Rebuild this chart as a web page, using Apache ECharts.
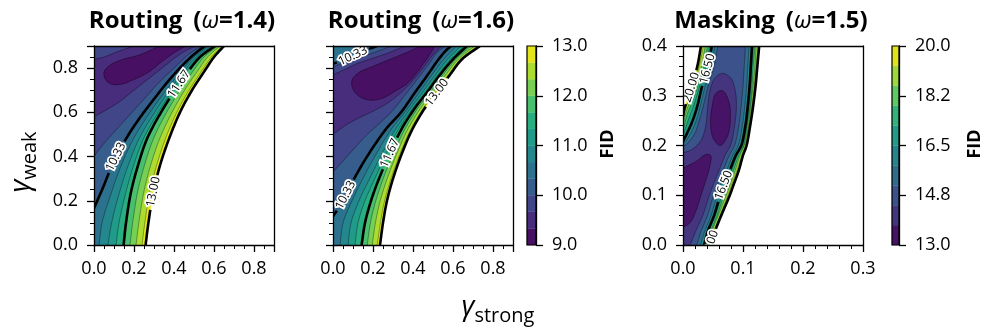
<!DOCTYPE html>
<html>
<head>
<meta charset="utf-8">
<script src="https://cdn.jsdelivr.net/npm/echarts@6.0.0/dist/echarts.min.js"></script>
<style>
html,body{margin:0;padding:0;background:#ffffff;}
#chart{width:996px;height:332px;}
</style>
</head>
<body>
<div id="chart"></div>
<script>
// ============================ DATA ============================
const panelNames = ['Routing', 'Routing', 'Masking'];
const panelOmegas = ['1.4', '1.6', '1.5'];

// FID contour levels
const routingLevels = [9.0, 9.333, 9.667, 10.0, 10.333, 10.667, 11.0, 11.333, 11.667, 12.0, 12.333, 12.667, 13.0];
const maskingLevels = [13.0, 13.7, 14.4, 15.1, 15.8, 16.5, 17.2, 17.9, 18.6, 19.3, 20.0];
const routingBoldLevels = [9.0, 10.333, 11.667, 13.0];
const maskingBoldLevels = [13.0, 16.5, 20.0];

// colorbar ticks
const routingCbarTicks = [9, 10, 11, 12, 13];
const maskingCbarTicks = [13, 14.75, 16.5, 18.25, 20];
const maskingCbarTickLabels = ['13.0', '14.8', '16.5', '18.2', '20.0'];

// axis tick labels
const routingAxisTicks = ['0.0', '0.2', '0.4', '0.6', '0.8'];
const maskingXTicks = ['0.0', '0.1', '0.2', '0.3'];
const maskingYTicks = ['0.0', '0.1', '0.2', '0.3', '0.4'];

// --- contour lines: [gamma_strong, gamma_weak] points ---
// Routing (omega = 1.4)
const r14_L0933 = [[[0.33,0.9],[0.3,0.888],[0.223,0.858],[0.14,0.838],[0.075,0.81],[0.05,0.78],[0.06,0.745],[0.09,0.727],[0.14,0.728],[0.19,0.745],[0.27,0.78],[0.34,0.83],[0.41,0.875],[0.46,0.9]]];
const r14_L0967 = [[[0.2,0.9],[0.12,0.875],[0.05,0.85],[0,0.84]],
                   [[0,0.58],[0.06,0.61],[0.13,0.65],[0.2,0.7],[0.27,0.75],[0.34,0.8],[0.41,0.85],[0.46,0.88],[0.51,0.9]]];
const r14_L1000 = [[[0,0.4],[0.05,0.46],[0.12,0.53],[0.19,0.6],[0.26,0.67],[0.33,0.74],[0.4,0.8],[0.47,0.86],[0.535,0.9]]];
const r14_L1033 = [[[0,0.166],[0.045,0.26],[0.1,0.38],[0.16,0.48],[0.225,0.57],[0.3,0.66],[0.375,0.745],[0.445,0.815],[0.51,0.87],[0.555,0.9]]];
const r14_L1067 = [[[0.025,0],[0.04,0.1],[0.088,0.24],[0.136,0.36],[0.197,0.48],[0.28,0.6],[0.36,0.7],[0.439,0.79],[0.499,0.85],[0.573,0.9]]];
const r14_L1100 = [[[0.07,0],[0.088,0.1],[0.128,0.24],[0.171,0.36],[0.225,0.48],[0.303,0.6],[0.378,0.7],[0.454,0.79],[0.512,0.85],[0.586,0.9]]];
const r14_L1133 = [[[0.11,0],[0.125,0.1],[0.16,0.24],[0.198,0.36],[0.247,0.48],[0.321,0.6],[0.393,0.7],[0.466,0.79],[0.522,0.85],[0.597,0.9]]];
const r14_L1167 = [[[0.148,0],[0.16,0.1],[0.185,0.24],[0.22,0.36],[0.265,0.48],[0.335,0.6],[0.405,0.7],[0.475,0.79],[0.53,0.85],[0.605,0.9]]];
const r14_L1200 = [[[0.18,0],[0.193,0.1],[0.218,0.24],[0.252,0.36],[0.297,0.48],[0.363,0.6],[0.43,0.7],[0.498,0.79],[0.55,0.85],[0.618,0.9]]];
const r14_L1233 = [[[0.21,0],[0.224,0.1],[0.249,0.24],[0.283,0.36],[0.328,0.48],[0.39,0.6],[0.453,0.7],[0.52,0.79],[0.568,0.85],[0.63,0.9]]];
const r14_L1267 = [[[0.24,0],[0.254,0.1],[0.279,0.24],[0.313,0.36],[0.357,0.48],[0.414,0.6],[0.475,0.7],[0.541,0.79],[0.587,0.85],[0.642,0.9]]];
const r14_L1300 = [[[0.258,0],[0.272,0.1],[0.297,0.24],[0.33,0.36],[0.375,0.48],[0.43,0.6],[0.49,0.7],[0.555,0.79],[0.6,0.85],[0.65,0.9]]];

// Routing (omega = 1.6)
const r16_L0933 = [[[0.44,0.9],[0.38,0.875],[0.3,0.845],[0.2,0.808],[0.13,0.78],[0.095,0.745],[0.1,0.705],[0.135,0.67],[0.19,0.655],[0.25,0.665],[0.31,0.695],[0.37,0.73],[0.42,0.78],[0.46,0.83],[0.49,0.87],[0.51,0.9]]];
const r16_L0967 = [[[0.36,0.9],[0.28,0.87],[0.2,0.845],[0.12,0.82],[0.05,0.79],[0,0.77]],
                   [[0,0.5],[0.06,0.54],[0.13,0.575],[0.2,0.605],[0.27,0.64],[0.34,0.69],[0.4,0.745],[0.45,0.8],[0.49,0.85],[0.52,0.88],[0.545,0.9]]];
const r16_L1000 = [[[0.29,0.9],[0.22,0.875],[0.14,0.85],[0.07,0.83],[0,0.805]],
                   [[0,0.33],[0.05,0.38],[0.1,0.43],[0.16,0.49],[0.22,0.54],[0.29,0.6],[0.37,0.69],[0.43,0.76],[0.48,0.82],[0.52,0.87],[0.56,0.9]]];
const r16_L1033 = [[[0.22,0.9],[0.16,0.88],[0.1,0.855],[0.05,0.835],[0,0.82]],
                   [[0,0.13],[0.03,0.17],[0.06,0.22],[0.1,0.29],[0.15,0.37],[0.21,0.455],[0.27,0.53],[0.34,0.6],[0.41,0.69],[0.47,0.765],[0.52,0.83],[0.56,0.875],[0.59,0.9]]];
const r16_L1067 = [[[0.035,0],[0.05,0.1],[0.095,0.2],[0.149,0.3],[0.218,0.415],[0.289,0.52],[0.375,0.62],[0.431,0.69],[0.495,0.77],[0.554,0.84],[0.618,0.9]]];
const r16_L1100 = [[[0.075,0],[0.09,0.1],[0.13,0.2],[0.183,0.3],[0.246,0.415],[0.31,0.52],[0.389,0.62],[0.447,0.69],[0.512,0.77],[0.573,0.84],[0.64,0.9]]];
const r16_L1133 = [[[0.11,0],[0.125,0.1],[0.16,0.2],[0.209,0.3],[0.267,0.415],[0.325,0.52],[0.401,0.62],[0.46,0.69],[0.525,0.77],[0.588,0.84],[0.656,0.9]]];
const r16_L1167 = [[[0.143,0],[0.16,0.1],[0.19,0.2],[0.23,0.3],[0.285,0.415],[0.34,0.52],[0.41,0.62],[0.47,0.69],[0.535,0.77],[0.6,0.84],[0.67,0.9]]];
const r16_L1200 = [[[0.171,0],[0.187,0.1],[0.214,0.2],[0.251,0.3],[0.303,0.415],[0.357,0.52],[0.425,0.62],[0.485,0.69],[0.55,0.77],[0.614,0.84],[0.69,0.9]]];
const r16_L1233 = [[[0.196,0],[0.212,0.1],[0.236,0.2],[0.271,0.3],[0.32,0.415],[0.372,0.52],[0.439,0.62],[0.499,0.69],[0.564,0.77],[0.626,0.84],[0.708,0.9]]];
const r16_L1267 = [[[0.221,0],[0.237,0.1],[0.258,0.2],[0.29,0.3],[0.336,0.415],[0.387,0.52],[0.453,0.62],[0.513,0.69],[0.578,0.77],[0.638,0.84],[0.725,0.9]]];
const r16_L1300 = [[[0.235,0],[0.25,0.1],[0.27,0.2],[0.3,0.3],[0.345,0.415],[0.395,0.52],[0.46,0.62],[0.52,0.69],[0.585,0.77],[0.645,0.84],[0.735,0.9]]];

// Masking (omega = 1.5)
const m15_L1370 = [[[0,0.035],[0.012,0.045],[0.022,0.07],[0.03,0.1],[0.038,0.13],[0.045,0.16],[0.046,0.18],[0.038,0.182],[0.022,0.168],[0,0.155]],
                   [[0.062,0.2],[0.074,0.218],[0.079,0.255],[0.076,0.29],[0.066,0.31],[0.055,0.305],[0.048,0.275],[0.046,0.24],[0.051,0.213]]];
const m15_L1440 = [[[0.012,0],[0.022,0.03],[0.033,0.06],[0.044,0.1],[0.05,0.12],[0.06,0.15],[0.07,0.18],[0.079,0.2],[0.086,0.24],[0.089,0.28],[0.087,0.31],[0.08,0.335],[0.066,0.345],[0.053,0.335],[0.045,0.31],[0.041,0.275],[0.038,0.24],[0.03,0.21],[0.015,0.192],[0,0.185]]];
const m15_L1510 = [[[0.058,0.4],[0.052,0.36],[0.042,0.32],[0.034,0.28],[0.027,0.25],[0.02,0.225],[0.008,0.205],[0,0.198]],
                   [[0.023,0],[0.031,0.03],[0.041,0.06],[0.051,0.1],[0.057,0.12],[0.067,0.15],[0.077,0.18],[0.086,0.2],[0.093,0.24],[0.097,0.28],[0.1,0.32],[0.102,0.36],[0.104,0.4]]];
const m15_L1580 = [[[0.053,0.4],[0.047,0.36],[0.037,0.32],[0.029,0.28],[0.022,0.25],[0.013,0.225],[0.004,0.208],[0,0.203]],
                   [[0.029,0],[0.037,0.03],[0.047,0.06],[0.057,0.1],[0.063,0.12],[0.073,0.15],[0.083,0.18],[0.092,0.2],[0.099,0.24],[0.103,0.28],[0.106,0.32],[0.108,0.36],[0.11,0.4]]];
const m15_L1650 = [[[0.048,0.4],[0.042,0.36],[0.032,0.32],[0.024,0.28],[0.016,0.25],[0.008,0.228],[0,0.208]],
                   [[0.035,0],[0.042,0.03],[0.052,0.06],[0.062,0.1],[0.068,0.12],[0.078,0.15],[0.088,0.18],[0.097,0.2],[0.104,0.24],[0.108,0.28],[0.111,0.32],[0.113,0.36],[0.115,0.4]]];
const m15_L1720 = [[[0.0445,0.4],[0.038,0.36],[0.028,0.32],[0.019,0.285],[0.01,0.255],[0,0.22]],
                   [[0.037,0],[0.044,0.03],[0.054,0.06],[0.065,0.1],[0.071,0.12],[0.081,0.15],[0.09,0.18],[0.099,0.2],[0.106,0.24],[0.11,0.28],[0.113,0.32],[0.115,0.36],[0.117,0.4]]];
const m15_L1790 = [[[0.041,0.4],[0.035,0.36],[0.025,0.32],[0.016,0.29],[0.007,0.262],[0,0.23]],
                   [[0.039,0],[0.047,0.03],[0.057,0.06],[0.068,0.1],[0.074,0.12],[0.084,0.15],[0.093,0.18],[0.101,0.2],[0.107,0.24],[0.112,0.28],[0.115,0.32],[0.117,0.36],[0.12,0.4]]];
const m15_L1860 = [[[0.037,0.4],[0.031,0.36],[0.021,0.32],[0.013,0.292],[0.005,0.267],[0,0.24]],
                   [[0.041,0],[0.049,0.03],[0.059,0.06],[0.072,0.1],[0.078,0.12],[0.087,0.15],[0.095,0.18],[0.102,0.2],[0.109,0.24],[0.113,0.28],[0.117,0.32],[0.12,0.36],[0.122,0.4]]];
const m15_L1930 = [[[0.034,0.4],[0.027,0.36],[0.018,0.32],[0.01,0.293],[0.003,0.27],[0,0.25]],
                   [[0.043,0],[0.052,0.03],[0.062,0.06],[0.075,0.1],[0.081,0.12],[0.09,0.15],[0.098,0.18],[0.104,0.2],[0.11,0.24],[0.115,0.28],[0.119,0.32],[0.122,0.36],[0.125,0.4]]];
const m15_L2000 = [[[0.03,0.4],[0.024,0.36],[0.015,0.32],[0.008,0.295],[0.002,0.272],[0,0.258]],
                   [[0.045,0],[0.054,0.03],[0.064,0.06],[0.078,0.1],[0.084,0.12],[0.093,0.15],[0.1,0.18],[0.106,0.2],[0.112,0.24],[0.117,0.28],[0.121,0.32],[0.124,0.36],[0.127,0.4]]];

// contour-label texts
const r14LabelTexts = ['10.33', '11.67', '13.00'];
const r16LabelTexts = ['10.33', '10.33', '11.67', '13.00'];
const m15LabelTexts = ['20.00', '16.50', '16.50', '20.00'];

// ====================== BUILD (not data) ======================
const r14Contours = [[9.333,r14_L0933],[9.667,r14_L0967],[10.0,r14_L1000],[10.333,r14_L1033],[10.667,r14_L1067],[11.0,r14_L1100],[11.333,r14_L1133],[11.667,r14_L1167],[12.0,r14_L1200],[12.333,r14_L1233],[12.667,r14_L1267],[13.0,r14_L1300]];
const r16Contours = [[9.333,r16_L0933],[9.667,r16_L0967],[10.0,r16_L1000],[10.333,r16_L1033],[10.667,r16_L1067],[11.0,r16_L1100],[11.333,r16_L1133],[11.667,r16_L1167],[12.0,r16_L1200],[12.333,r16_L1233],[12.667,r16_L1267],[13.0,r16_L1300]];
const m15Contours = [[13.7,m15_L1370],[14.4,m15_L1440],[15.1,m15_L1510],[15.8,m15_L1580],[16.5,m15_L1650],[17.2,m15_L1720],[17.9,m15_L1790],[18.6,m15_L1860],[19.3,m15_L1930],[20.0,m15_L2000]];

// label anchors (layout config)
const r14LabelSpots = [[10.333,[0.105,0.398]],[11.667,[0.43,0.723]],[13.0,[0.297,0.24]]];
const r16LabelSpots = [[10.333,[0.1,0.855]],[10.333,[0.06,0.224]],[11.667,[0.285,0.414]],[13.0,[0.518,0.693]]];
const m15LabelSpots = [[20.0,[0.012,0.318]],[16.5,[0.045,0.352]],[16.5,[0.066,0.12]],[20.0,[0.045,0.0]]];

const FONT = "'Open Sans','Noto Sans','DejaVu Sans',sans-serif";
const VIR = ['#440154','#48186a','#472d7b','#424086','#3b528b','#33638d','#2c728e','#26828e','#21918c','#1fa088','#28ae80','#3fbc73','#5ec962','#84d44b','#addc30','#d8e219','#fde725'];
function hexRgb(h){ return [parseInt(h.slice(1,3),16), parseInt(h.slice(3,5),16), parseInt(h.slice(5,7),16)]; }
function viridis(t){
  const n = VIR.length - 1;
  const f = Math.min(Math.max(t,0),1) * n;
  const i = Math.min(Math.floor(f), n-1), u = f - i;
  const a = hexRgb(VIR[i]), b = hexRgb(VIR[i+1]);
  return 'rgb(' + [0,1,2].map(k => Math.round(a[k] + (b[k]-a[k])*u)).join(',') + ')';
}
function bandColor(levels, L){
  const idx = levels.findIndex(v => Math.abs(v - L) < 1e-6);
  return viridis((idx - 0.5) / (levels.length - 1));
}

function catmull(P, closed){
  const n = P.length;
  if (n < 3) return P.map(p => p.slice());
  const get = i => {
    if (closed) return P[((i % n) + n) % n];
    if (i < 0) return [2*P[0][0]-P[1][0], 2*P[0][1]-P[1][1]];
    if (i > n-1) return [2*P[n-1][0]-P[n-2][0], 2*P[n-1][1]-P[n-2][1]];
    return P[i];
  };
  const dist = (a,b) => Math.max(Math.pow(Math.hypot(b[0]-a[0], b[1]-a[1]), 0.5), 1e-4);
  const out = [];
  const segs = closed ? n : n - 1;
  for (let i = 0; i < segs; i++){
    const p0 = get(i-1), p1 = get(i), p2 = get(i+1), p3 = get(i+2);
    const t0 = 0, t1 = t0 + dist(p0,p1), t2 = t1 + dist(p1,p2), t3 = t2 + dist(p2,p3);
    const steps = Math.max(2, Math.ceil(Math.hypot(p2[0]-p1[0], p2[1]-p1[1]) / 1.5));
    for (let k = 0; k < steps; k++){
      const tt = t1 + (t2 - t1) * k / steps;
      const L = (a,b,ta,tb) => [((tb-tt)*a[0] + (tt-ta)*b[0])/(tb-ta), ((tb-tt)*a[1] + (tt-ta)*b[1])/(tb-ta)];
      const A1 = L(p0,p1,t0,t1), A2 = L(p1,p2,t1,t2), A3 = L(p2,p3,t2,t3);
      const B1 = L(A1,A2,t0,t2), B2 = L(A2,A3,t1,t3);
      out.push(L(B1,B2,t1,t2));
    }
  }
  if (!closed) out.push(P[n-1].slice());
  return out;
}

function panelSeries(xIdx, yIdx, W, H, levels, contours, boldLevels, spots, texts){
  const E = 1e-9, PER = 2*W + 2*H;
  const onEdge = p => Math.abs(p[0]) < E || Math.abs(p[0]-W) < E || Math.abs(p[1]) < E || Math.abs(p[1]-H) < E;
  const perimT = p => {
    const x = p[0], y = p[1];
    if (Math.abs(y) < E) return x;
    if (Math.abs(x-W) < E) return W + y;
    if (Math.abs(y-H) < E) return W + H + (W - x);
    return 2*W + H + (H - y);
  };
  const corners = [[0,[0,0]],[W,[W,0]],[W+H,[W,H]],[2*W+H,[0,H]]];
  const walk = (a,b) => {
    const ta = perimT(a); let tb = perimT(b);
    if (tb <= ta) tb += PER;
    const out = [];
    for (let k = 0; k < 2; k++) for (const [t,c] of corners){ const v = t + k*PER; if (v > ta + E && v < tb - E) out.push(c); }
    return out;
  };
  return {
    type: 'custom', xAxisIndex: xIdx, yAxisIndex: yIdx, clip: true, silent: true, z: 2,
    data: [[0,0]],
    renderItem(params, api){
      const px = p => api.coord(p);
      const children = [];
      const segInfo = contours.map(([L, segs]) => segs.map(s => {
        const closed = !(onEdge(s[0]) && onEdge(s[s.length-1]));
        return {closed, raw: s, pts: catmull(s.map(px), closed)};
      }));
      const order = contours.map((c,i) => i).sort((a,b) => contours[b][0] - contours[a][0]);
      for (const ci of order){
        const L = contours[ci][0];
        const col = bandColor(levels, L);
        const infos = segInfo[ci];
        const opens = infos.filter(s => !s.closed), closeds = infos.filter(s => s.closed);
        closeds.forEach(s => children.push({type:'polygon', shape:{points:s.pts}, style:{fill:col, stroke:col, lineWidth:0.4}}));
        if (opens.length){
          let pts = [];
          opens.forEach((s, i) => {
            const nx = opens[(i+1) % opens.length];
            pts = pts.concat(s.pts);
            walk(s.raw[s.raw.length-1], nx.raw[0]).forEach(c => pts.push(px(c)));
          });
          children.push({type:'polygon', shape:{points:pts}, style:{fill:col, stroke:col, lineWidth:0.4}});
        }
      }
      const cuts = segInfo.map(a => a.map(() => []));
      const labels = [];
      spots.forEach(([L, at], li) => {
        const ci = contours.findIndex(c => Math.abs(c[0]-L) < 1e-6);
        const a = px(at);
        let best = null;
        segInfo[ci].forEach((s, si) => s.pts.forEach((p, pi) => {
          const d = Math.hypot(p[0]-a[0], p[1]-a[1]);
          if (!best || d < best.d) best = {d, si, pi};
        }));
        const pts = segInfo[ci][best.si].pts;
        let s0 = 0;
        for (let i = 1; i <= best.pi; i++) s0 += Math.hypot(pts[i][0]-pts[i-1][0], pts[i][1]-pts[i-1][1]);
        const i0 = Math.max(0, best.pi - 4), i1 = Math.min(pts.length-1, best.pi + 4);
        let ang = Math.atan2(-(pts[i1][1]-pts[i0][1]), pts[i1][0]-pts[i0][0]);
        if (ang > Math.PI/2) ang -= Math.PI;
        if (ang < -Math.PI/2) ang += Math.PI;
        cuts[ci][best.si].push([s0, 17]);
        labels.push({x: pts[best.pi][0], y: pts[best.pi][1], ang, text: texts[li]});
      });
      contours.forEach(([L, segs], ci) => {
        const bold = boldLevels.some(b => Math.abs(b-L) < 1e-6);
        segInfo[ci].forEach((s, si) => {
          let pts = s.pts;
          if (s.closed) pts = pts.concat([pts[0]]);
          const cl = cuts[ci][si];
          let runs = [pts];
          if (cl.length){
            const acc = [0];
            for (let i = 1; i < pts.length; i++) acc.push(acc[i-1] + Math.hypot(pts[i][0]-pts[i-1][0], pts[i][1]-pts[i-1][1]));
            runs = []; let cur = [];
            for (let i = 0; i < pts.length; i++){
              const inside = cl.some(([c,h]) => Math.abs(acc[i]-c) < h);
              if (inside){ if (cur.length > 1) runs.push(cur); cur = []; } else cur.push(pts[i]);
            }
            if (cur.length > 1) runs.push(cur);
          }
          runs.forEach(r => children.push({type:'polyline', shape:{points:r},
            style: bold ? {stroke:'#000', lineWidth:2.6, fill:null, lineJoin:'round'} : {stroke:'rgba(0,0,0,0.55)', lineWidth:0.6, fill:null}}));
        });
      });
      labels.forEach(l => {
        const base = {text:l.text, fontSize:12, fontFamily:FONT, align:'center', verticalAlign:'middle'};
        children.push({type:'text', x:l.x, y:l.y, rotation:l.ang, style:Object.assign({}, base, {fill:'#fff', stroke:'#fff', lineWidth:3.5})});
        children.push({type:'text', x:l.x, y:l.y, rotation:l.ang, style:Object.assign({}, base, {fill:'#000'})});
      });
      return {type:'group', children};
    }
  };
}

function cbarSeries(xIdx, yIdx, levels, offset){
  return {
    type:'custom', xAxisIndex:xIdx, yAxisIndex:yIdx, silent:true, z:2, data:[[0,0]],
    renderItem(params, api){
      const children = [];
      const n = levels.length - 1;
      for (let i = 0; i < n; i++){
        const a = api.coord([0, levels[i]-offset]), b = api.coord([1, levels[i+1]-offset]);
        const col = viridis((i+0.5)/n);
        children.push({type:'rect', shape:{x:a[0], y:b[1], width:b[0]-a[0], height:a[1]-b[1]}, style:{fill:col, stroke:col, lineWidth:0.3}});
      }
      const a = api.coord([0, levels[0]-offset]), b = api.coord([1, levels[n]-offset]);
      children.push({type:'rect', shape:{x:a[0], y:b[1], width:b[0]-a[0], height:a[1]-b[1]}, style:{fill:null, stroke:'#000', lineWidth:1.2}});
      return {type:'group', children};
    }
  };
}

const BLK = '#000';
function major(o, labelsArr, labelShow, margin){
  return Object.assign({
    type:'value', z:10,
    axisLine:{show:true, onZero:false, lineStyle:{color:BLK, width:1.3}},
    axisTick:{show:true, inside:false, length:7, lineStyle:{color:BLK, width:1.3}},
    axisLabel:{show:labelShow, color:BLK, fontSize:18, fontFamily:FONT, margin:margin,
      formatter:(v) => { const i = Math.round(v / o.interval); return (labelsArr && labelsArr[i] !== undefined && Math.abs(i*o.interval - v) < 1e-9) ? labelsArr[i] : ''; }},
    splitLine:{show:false}, minorSplitLine:{show:false}
  }, o);
}
function minor(o){
  return Object.assign({type:'value', z:10, axisLine:{show:false, onZero:false}, axisTick:{show:true, length:4, lineStyle:{color:BLK, width:1}},
    axisLabel:{show:false}, splitLine:{show:false}}, o);
}
function frame(o){
  return Object.assign({type:'value', z:10, axisLine:{show:true, onZero:false, lineStyle:{color:BLK, width:1.3}}, axisTick:{show:false}, axisLabel:{show:false}, splitLine:{show:false}}, o);
}

const xAxes = [
  major({gridIndex:0, min:0, max:0.9, interval:0.2, position:'bottom'}, routingAxisTicks, true, 15),
  major({gridIndex:1, min:0, max:0.9, interval:0.2, position:'bottom'}, routingAxisTicks, true, 15),
  Object.assign(major({gridIndex:2, min:0, max:0.3, interval:0.1, position:'bottom'}, maskingXTicks, true, 15), {minorTick:{show:true, splitNumber:5, length:4, lineStyle:{color:BLK, width:1}}}),
  minor({gridIndex:0, min:0, max:0.9, interval:0.05, position:'bottom'}),
  minor({gridIndex:1, min:0, max:0.9, interval:0.05, position:'bottom'}),
  frame({gridIndex:0, min:0, max:0.9, position:'top'}),
  frame({gridIndex:1, min:0, max:0.9, position:'top'}),
  frame({gridIndex:2, min:0, max:0.3, position:'top'}),
  {type:'value', gridIndex:3, min:0, max:1, show:false},
  {type:'value', gridIndex:4, min:0, max:1, show:false}
];
const yAxes = [
  major({gridIndex:0, min:0, max:0.9, interval:0.2, position:'left'}, routingAxisTicks, true, 16),
  major({gridIndex:1, min:0, max:0.9, interval:0.2, position:'left'}, routingAxisTicks, false, 16),
  Object.assign(major({gridIndex:2, min:0, max:0.4, interval:0.1, position:'left'}, maskingYTicks, true, 16), {minorTick:{show:true, splitNumber:5, length:4, lineStyle:{color:BLK, width:1}}}),
  minor({gridIndex:0, min:0, max:0.9, interval:0.05, position:'left'}),
  minor({gridIndex:1, min:0, max:0.9, interval:0.05, position:'left'}),
  frame({gridIndex:0, min:0, max:0.9, position:'right'}),
  frame({gridIndex:1, min:0, max:0.9, position:'right'}),
  frame({gridIndex:2, min:0, max:0.4, position:'right'}),
  major({gridIndex:3, min:9, max:13, interval:1, position:'right'}, null, true, 16),
  major({gridIndex:4, min:0, max:7, interval:1.75, position:'right'}, null, true, 16)
];
yAxes[8].axisLabel.formatter = v => { const i = routingCbarTicks.findIndex(t => Math.abs(t - v) < 1e-9); return i >= 0 ? routingCbarTicks[i].toFixed(1) : ''; };
yAxes[9].axisLabel.formatter = v => { const i = maskingCbarTicks.findIndex(t => Math.abs(t - 13 - v) < 1e-9); return i >= 0 ? maskingCbarTickLabels[i] : ''; };

function titleEl(cx, name, omega){
  const t = {fontSize:24, fontWeight:'bold', fontFamily:FONT, fill:'#000'};
  return {type:'text', x:cx, y:21, style:{
    text:'{b|' + name + '}{p|(}{w|ω}{p|=' + omega + ')}',
    rich:{ b:Object.assign({padding:[0,11,0,0]}, t), p:t, w:Object.assign({}, t, {fontStyle:'italic', fontWeight:'normal'}) },
    align:'center', verticalAlign:'middle'}};
}
function gammaEl(x, y, sub, rot){
  return {type:'text', x, y, rotation:rot, style:{
    text:'{g|γ}{s|' + sub + '}',
    rich:{ g:{fontSize:28, fontStyle:'italic', fontFamily:FONT, fill:'#000', verticalAlign:'bottom', padding:[0,0,5,0]},
           s:{fontSize:20, fontFamily:FONT, fill:'#000', verticalAlign:'bottom'} },
    align:'center', verticalAlign:'middle'}};
}
function fidEl(x){
  return {type:'text', x, y:144, rotation:Math.PI/2, style:{text:'FID', fontSize:18, fontWeight:'bold', fontFamily:FONT, fill:'#000', align:'center', verticalAlign:'middle'}};
}

const option = {
  animation:false,
  backgroundColor:'#ffffff',
  grid:[
    {left:94, top:46, width:180, height:199},
    {left:333, top:46, width:180, height:199},
    {left:683, top:46, width:180, height:199},
    {left:527, top:46, width:9, height:199},
    {left:892, top:46, width:7, height:199}
  ],
  xAxis: xAxes,
  yAxis: yAxes,
  series:[
    panelSeries(0, 0, 0.9, 0.9, routingLevels, r14Contours, routingBoldLevels, r14LabelSpots, r14LabelTexts),
    panelSeries(1, 1, 0.9, 0.9, routingLevels, r16Contours, routingBoldLevels, r16LabelSpots, r16LabelTexts),
    panelSeries(2, 2, 0.3, 0.4, maskingLevels, m15Contours, maskingBoldLevels, m15LabelSpots, m15LabelTexts),
    cbarSeries(8, 8, routingLevels, 0),
    cbarSeries(9, 9, maskingLevels, 13)
  ],
  graphic:[
    titleEl(182, panelNames[0], panelOmegas[0]),
    titleEl(421, panelNames[1], panelOmegas[1]),
    titleEl(771, panelNames[2], panelOmegas[2]),
    gammaEl(498, 310, 'strong', 0),
    gammaEl(24, 162, 'weak', Math.PI/2),
    fidEl(608),
    fidEl(975)
  ]
};
const chart = echarts.init(document.getElementById('chart'), null, {renderer:'canvas'});
chart.setOption(option);
</script>
</body>
</html>
